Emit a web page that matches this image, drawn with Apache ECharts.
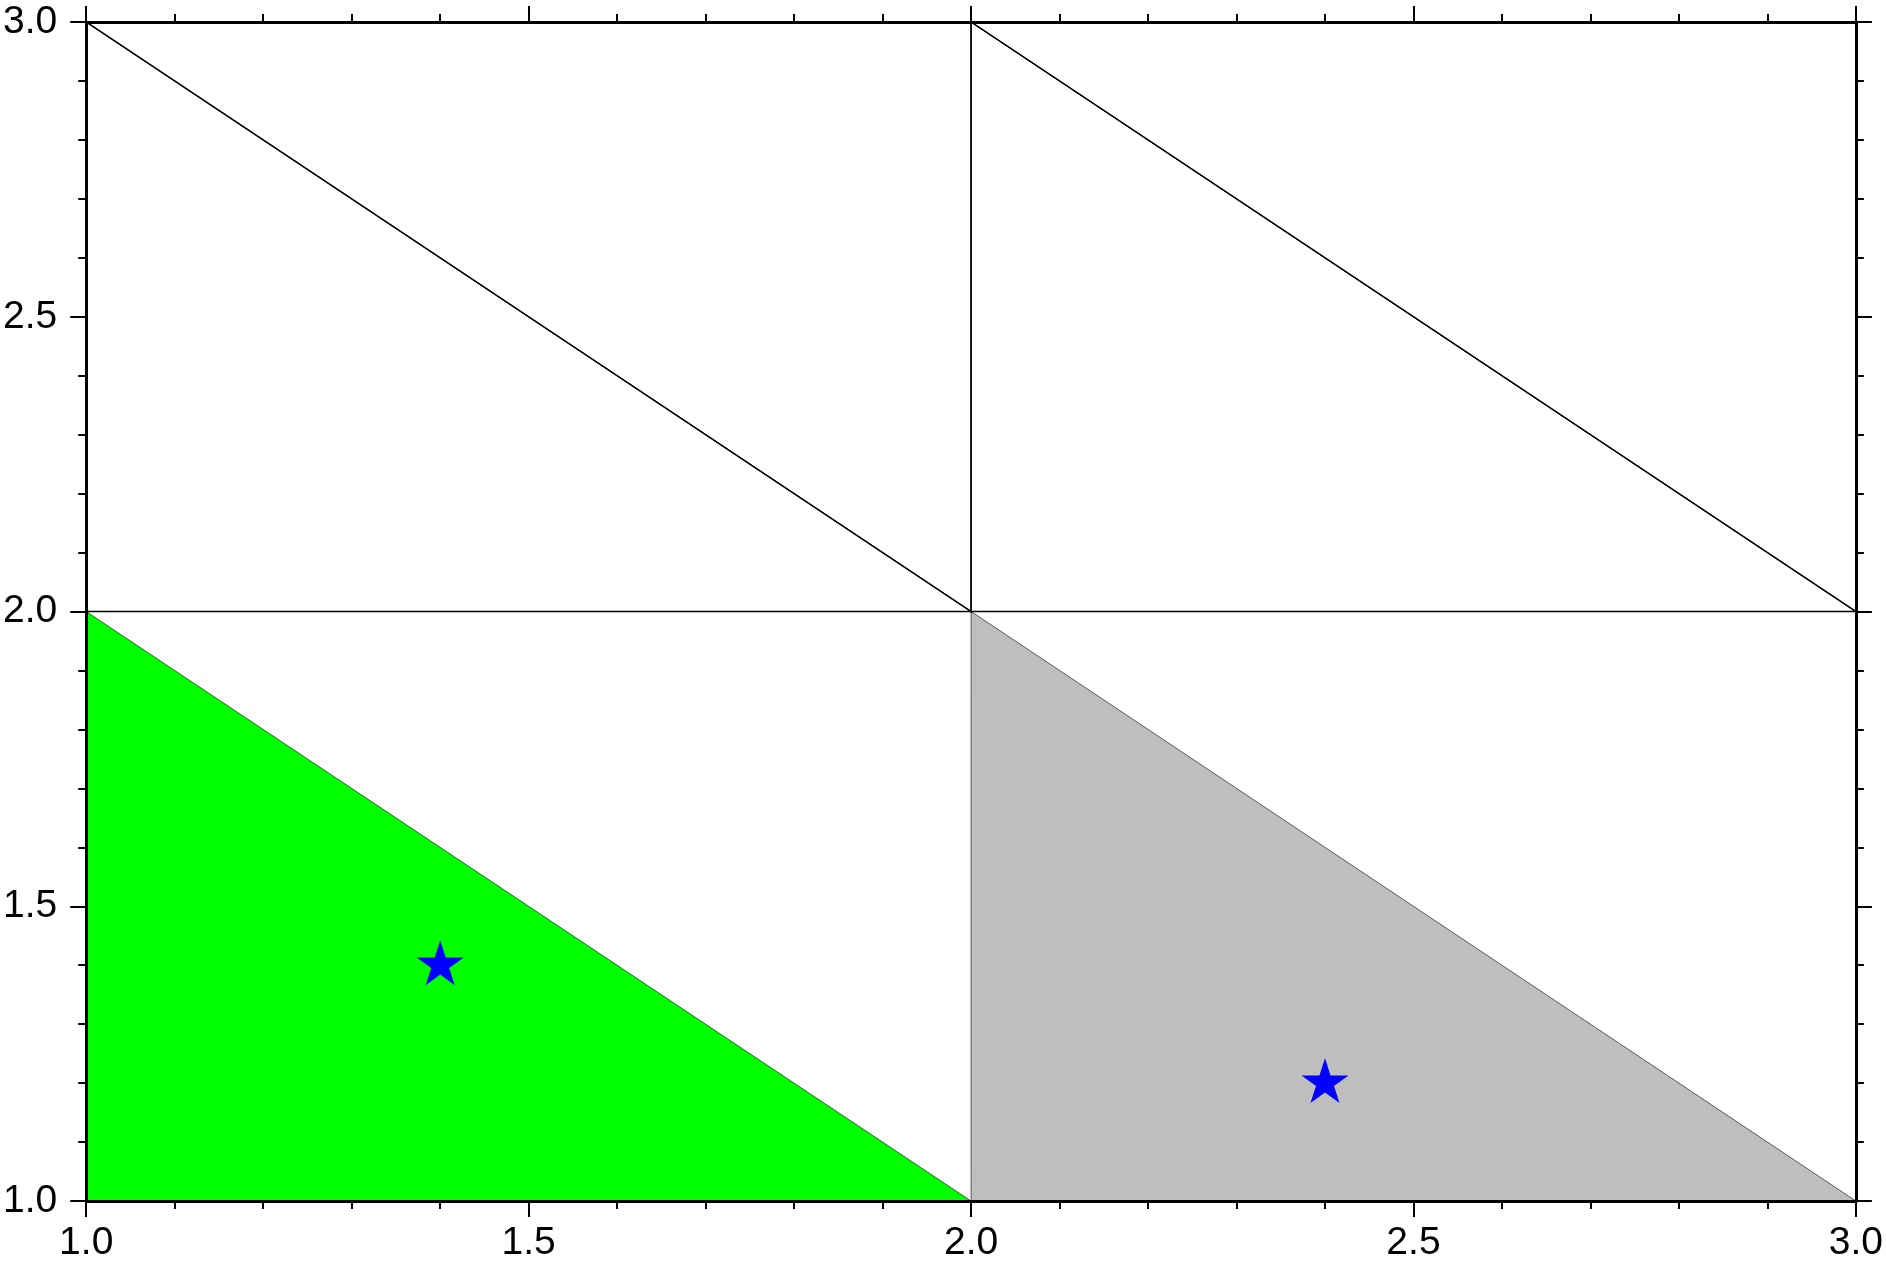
<!DOCTYPE html>
<html>
<head>
<meta charset="utf-8">
<script src="https://cdn.jsdelivr.net/npm/echarts@6/dist/echarts.min.js"></script>
<style>
  html, body { margin: 0; padding: 0; background: #fff; }
  #chart { width: 1886px; height: 1263px; }
</style>
</head>
<body>
<div id="chart"></div>
<script>
// axis ticks
const xTicks = [1.0, 1.5, 2.0, 2.5, 3.0]
const yTicks = [1.0, 1.5, 2.0, 2.5, 3.0]

// triangles, vertices in data units
const outlineTriangles = [
  [[1, 3], [2, 3], [2, 2]],
  [[1, 3], [1, 2], [2, 2]],
  [[2, 3], [3, 3], [3, 2]],
  [[2, 3], [2, 2], [3, 2]]
]
const filledTriangles = [
  [[1, 2], [1, 1], [2, 1]],
  [[2, 2], [2, 1], [3, 1]]
]
const fillColors = ['#00ff00', '#bebebe']

// star markers
const starPoints = [[1.4, 1.4], [2.4, 1.2]]

const starPath = 'path://M0 -100 L22.45 -30.9 L95.1 -30.9 L36.3 11.8 L58.8 80.9 L0 38.2 L-58.8 80.9 L-36.3 11.8 L-95.1 -30.9 L-22.45 -30.9 Z'
const font = 'Liberation Sans'

function triRender(strokeWidth, fills) {
  return function (params, api) {
    const pts = [0, 1, 2].map(k => api.coord([api.value(2 * k), api.value(2 * k + 1)]))
    return {
      type: 'polygon',
      shape: { points: pts },
      style: {
        fill: fills ? fills[params.dataIndex] : 'none',
        stroke: '#000',
        lineWidth: strokeWidth
      }
    }
  }
}

function axisBase(pos, showLabel, margin) {
  return {
    type: 'value',
    position: pos,
    min: 1,
    max: 3,
    interval: 0.5,
    z: 10,
    axisLine: { show: true, onZero: false, lineStyle: { color: '#000', width: 3 } },
    axisTick: { show: true, inside: false, length: 16, lineStyle: { color: '#000', width: 2 } },
    minorTick: { show: true, splitNumber: 5, length: 8, lineStyle: { color: '#000', width: 2 } },
    splitLine: { show: false },
    minorSplitLine: { show: false },
    axisLabel: {
      show: showLabel,
      margin: margin,
      color: '#000',
      fontFamily: font,
      fontSize: 39,
      formatter: v => v.toFixed(1)
    }
  }
}

const chart = echarts.init(document.getElementById('chart'), null, { renderer: 'canvas' })
chart.setOption({
  animation: false,
  backgroundColor: '#fff',
  grid: { left: 84, right: 30, top: 22, bottom: 61, containLabel: false },
  xAxis: [axisBase('bottom', true, 23), axisBase('top', false, 8)],
  yAxis: [axisBase('left', true, 29), axisBase('right', false, 8)],
  series: [
    {
      type: 'custom',
      renderItem: triRender(0.6, fillColors),
      encode: { x: [0, 2, 4], y: [1, 3, 5] },
      data: filledTriangles.map(t => t.flat()),
      z: 1
    },
    {
      type: 'custom',
      renderItem: triRender(1.4, null),
      encode: { x: [0, 2, 4], y: [1, 3, 5] },
      data: outlineTriangles.map(t => t.flat()),
      z: 2
    },
    {
      type: 'scatter',
      symbol: starPath,
      symbolSize: [47, 44.7],
      symbolOffset: [0, -2.4],
      itemStyle: { color: '#0000ff', opacity: 1 },
      data: starPoints,
      z: 3
    }
  ]
})
</script>
</body>
</html>
